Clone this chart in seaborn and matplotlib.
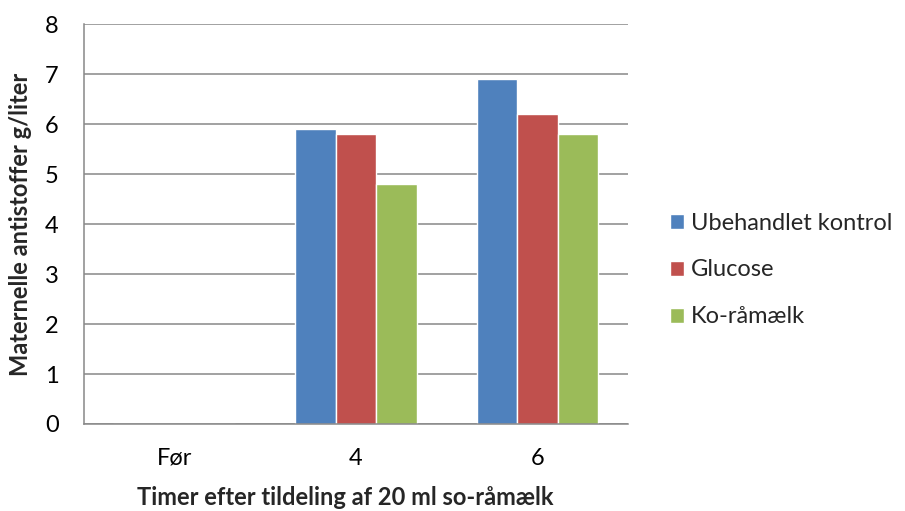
import numpy as np
import pandas as pd
import matplotlib
matplotlib.use("Agg")
import matplotlib.pyplot as plt
import seaborn as sns

# Data
tidspunkter = ["Før", "4", "6"]
grupper = ["Ubehandlet kontrol", "Glucose", "Ko-råmælk"]
ubehandlet = [0.0, 5.9, 6.9]
glucose = [0.0, 5.8, 6.2]
koraamaelk = [0.0, 4.8, 5.8]
farver = ["#4F81BD", "#C0504D", "#9BBB59"]

df = pd.DataFrame({
    "tid": tidspunkter * 3,
    "gruppe": [g for g in grupper for _ in tidspunkter],
    "vaerdi": ubehandlet + glucose + koraamaelk,
})

sns.set_theme(style="white")
plt.rcParams["font.family"] = ["Lato", "DejaVu Sans"]

fig = plt.figure(figsize=(9.05, 5.11), dpi=100)
ax = fig.add_axes([0.0923, 0.1703, 0.6017, 0.7818])

sns.barplot(data=df, x="tid", y="vaerdi", hue="gruppe", order=tidspunkter,
            hue_order=grupper, palette=farver, saturation=1, width=0.67,
            ax=ax, legend=True)

ax.set_ylim(0, 8)
ax.set_xlim(-0.5, 2.5)
ax.set_yticks(range(0, 9))
ax.yaxis.grid(True, color="#888888", linewidth=1.1)
ax.set_axisbelow(True)

for s in ["top", "right"]:
    ax.spines[s].set_visible(False)
for s in ["left", "bottom"]:
    ax.spines[s].set_color("#888888")
    ax.spines[s].set_linewidth(1.1)

ax.tick_params(axis="y", length=0, pad=18, labelsize=17, colors="black")
ax.tick_params(axis="x", length=0, pad=17, labelsize=17, colors="black")

ax.set_ylabel("Maternelle antistoffer g/liter", fontsize=17, fontweight="bold")
ax.set_xlabel("Timer efter tildeling af 20 ml so-råmælk", fontsize=17, fontweight="bold")
ax.yaxis.set_label_coords(-0.094, 0.5)
ax.xaxis.set_label_coords(0.48, -0.155)

handles, labels = ax.get_legend_handles_labels()
ax.get_legend().remove()
fig.legend(handles, labels, loc="center left", bbox_to_anchor=(670 / 905, 1 - 270 / 511),
           frameon=False, fontsize=17, handlelength=0.6, handleheight=0.6,
           handletextpad=0.3, labelspacing=1.1, borderpad=0, borderaxespad=0)

fig.savefig("out.png", dpi=100)
